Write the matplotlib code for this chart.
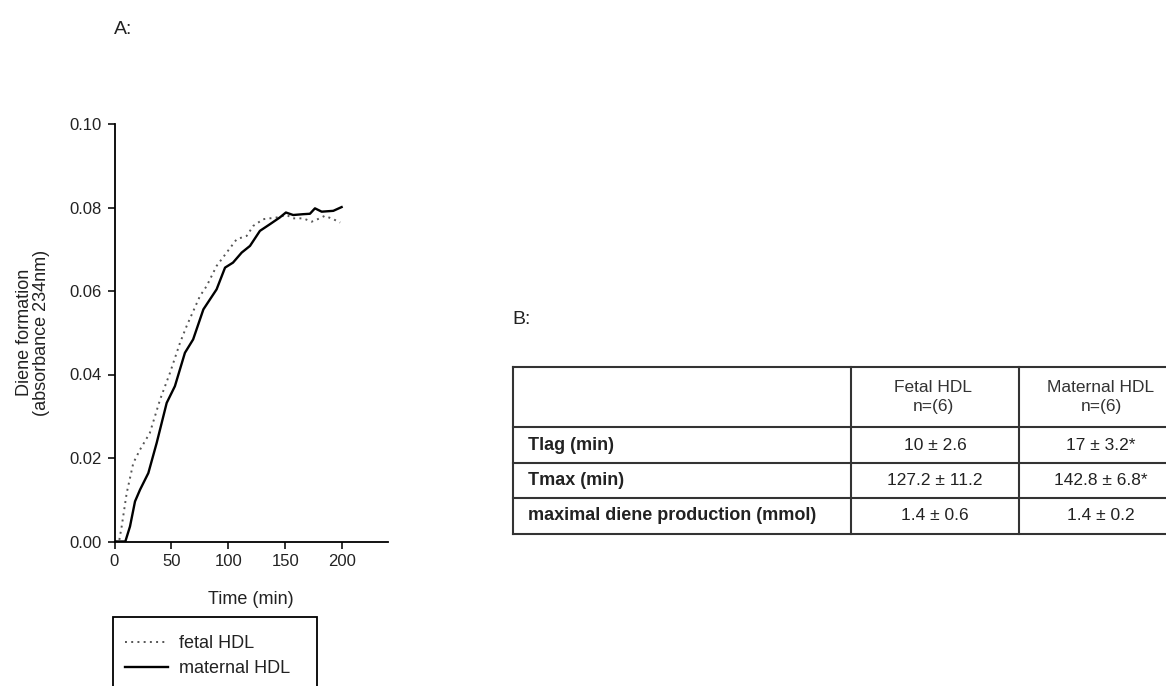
import matplotlib
matplotlib.use("Agg")
import matplotlib.pyplot as plt
from matplotlib.patches import Rectangle
from matplotlib.lines import Line2D

plt.rcParams['font.family'] = ['Liberation Sans', 'DejaVu Sans']

# ---- data: panel A ----
maternal_t = [0, 9.5, 13.6, 18, 22.4, 29.7, 37, 45.8, 53, 61.8, 69, 78, 89.6, 97, 104,
              111.6, 118.9, 127.6, 136.4, 145, 150.4, 156.8, 165.6, 171.5, 175.9,
              181.8, 192, 199.3]
maternal_v = [0, 0, 0.0036, 0.0096, 0.0124, 0.0164, 0.0236, 0.0332, 0.0372, 0.0452,
              0.0484, 0.0556, 0.0604, 0.0656, 0.0668, 0.0692, 0.0708, 0.0744, 0.0760,
              0.0776, 0.0788, 0.0782, 0.0784, 0.0785, 0.0798, 0.0790, 0.0792, 0.0801]

fetal_t = [0, 4, 6.3, 10.7, 16.5, 22.4, 31, 40, 48.7, 57.5, 63.3, 75, 80.9, 89.6, 98.4,
           107.2, 116, 121.8, 130.5, 142, 151, 156.8, 165.6, 173, 180, 184.5, 192, 198]
fetal_v = [0, 0, 0.0036, 0.0116, 0.0188, 0.022, 0.026, 0.034, 0.0404, 0.0476, 0.0516,
           0.0588, 0.0612, 0.066, 0.0692, 0.0724, 0.0732, 0.0756, 0.0772, 0.0776,
           0.0782, 0.0774, 0.0774, 0.0766, 0.0774, 0.078, 0.0772, 0.0764]

x_ticks = [0, 50, 100, 150, 200]
y_ticks = [0.00, 0.02, 0.04, 0.06, 0.08, 0.10]
series_labels = ["fetal HDL", "maternal HDL"]

# ---- data: panel B table ----
col_headers = ["", "Fetal HDL\nn=(6)", "Maternal HDL\nn=(6)"]
row_labels = ["Tlag (min)", "Tmax (min)", "maximal diene production (mmol)"]
fetal_vals = ["10 \u00b1 2.6", "127.2 \u00b1 11.2", "1.4 \u00b1 0.6"]
maternal_vals = ["17 \u00b1 3.2*", "142.8 \u00b1 6.8*", "1.4 \u00b1 0.2"]

W, H = 1166, 686
fig = plt.figure(figsize=(W / 100, H / 100), dpi=100)
TXT = '#222222'

def fx(px):
    return px / W

def fy(py):
    return 1 - py / H

# ---- panel A axes ----
ax = fig.add_axes([fx(114.5), fy(541.5), fx(388) - fx(114.5), fy(124) - fy(541.5)])
l_fetal, = ax.plot(fetal_t, fetal_v, color='#555555', lw=1.4, ls=(0, (1, 2.2)))
l_mat, = ax.plot(maternal_t, maternal_v, color='black', lw=1.7)
ax.set_xlim(0, 240)
ax.set_ylim(0, 0.10)
ax.set_xticks(x_ticks)
ax.set_xticklabels([str(v) for v in x_ticks])
ax.set_yticks(y_ticks)
ax.set_yticklabels([f"{v:.2f}" for v in y_ticks])
for s in ['top', 'right']:
    ax.spines[s].set_visible(False)
for s in ['left', 'bottom']:
    ax.spines[s].set_linewidth(1.3)
ax.tick_params(direction='out', length=5, width=1.3, labelsize=12, colors=TXT, pad=4)
ax.set_xlabel("Time (min)", fontsize=13, color=TXT, labelpad=16)
ax.set_ylabel("Diene formation\n(absorbance 234nm)", fontsize=13, color=TXT, labelpad=14,
              linespacing=1.0)

fig.text(fx(123), fy(29), "A:", fontsize=14, color=TXT, ha='center', va='center')

# legend box (extends beyond bottom edge)
fig.patches.append(Rectangle((fx(113), fy(700)), fx(317) - fx(113), fy(617) - fy(700),
                             transform=fig.transFigure, fill=False, ec='black', lw=1.3))
leg = fig.legend([l_fetal, l_mat], series_labels, loc='upper left',
                 bbox_to_anchor=(fx(125), fy(635)), frameon=False, fontsize=13,
                 handlelength=2.4, handletextpad=0.6, labelspacing=0.45,
                 borderaxespad=0, borderpad=0)
for t in leg.get_texts():
    t.set_color(TXT)

# ---- panel B ----
fig.text(fx(522), fy(320), "B:", fontsize=14, color=TXT, ha='center', va='center')

x_edges = [513, 851, 1019, 1187]
y_edges = [367, 427, 463, 498, 534]
lw_t = 1.5
for yy in y_edges:
    fig.add_artist(Line2D([fx(x_edges[0]), fx(x_edges[-1])], [fy(yy), fy(yy)],
                          transform=fig.transFigure, color='#333333', lw=lw_t))
for xx in x_edges:
    fig.add_artist(Line2D([fx(xx), fx(xx)], [fy(y_edges[0]), fy(y_edges[-1])],
                          transform=fig.transFigure, color='#333333', lw=lw_t))

def cx(i):
    return (x_edges[i] + x_edges[i + 1]) / 2

def cy(j):
    return (y_edges[j] + y_edges[j + 1]) / 2

for i, h in enumerate(col_headers):
    if h:
        fig.text(fx(cx(i) - 2), fy(cy(0)), h, ha='center', va='center', fontsize=12.5,
                 color='#333333', linespacing=1.3)
for j, lab in enumerate(row_labels):
    fig.text(fx(x_edges[0] + 15), fy(cy(j + 1)), lab, ha='left', va='center',
             fontsize=13, fontweight='bold', color=TXT)
    fig.text(fx(cx(1)), fy(cy(j + 1)), fetal_vals[j], ha='center', va='center',
             fontsize=12.5, color=TXT)
    fig.text(fx(cx(2) - 2), fy(cy(j + 1)), maternal_vals[j], ha='center', va='center',
             fontsize=12.5, color=TXT)

fig.savefig("out.png", dpi=100)
